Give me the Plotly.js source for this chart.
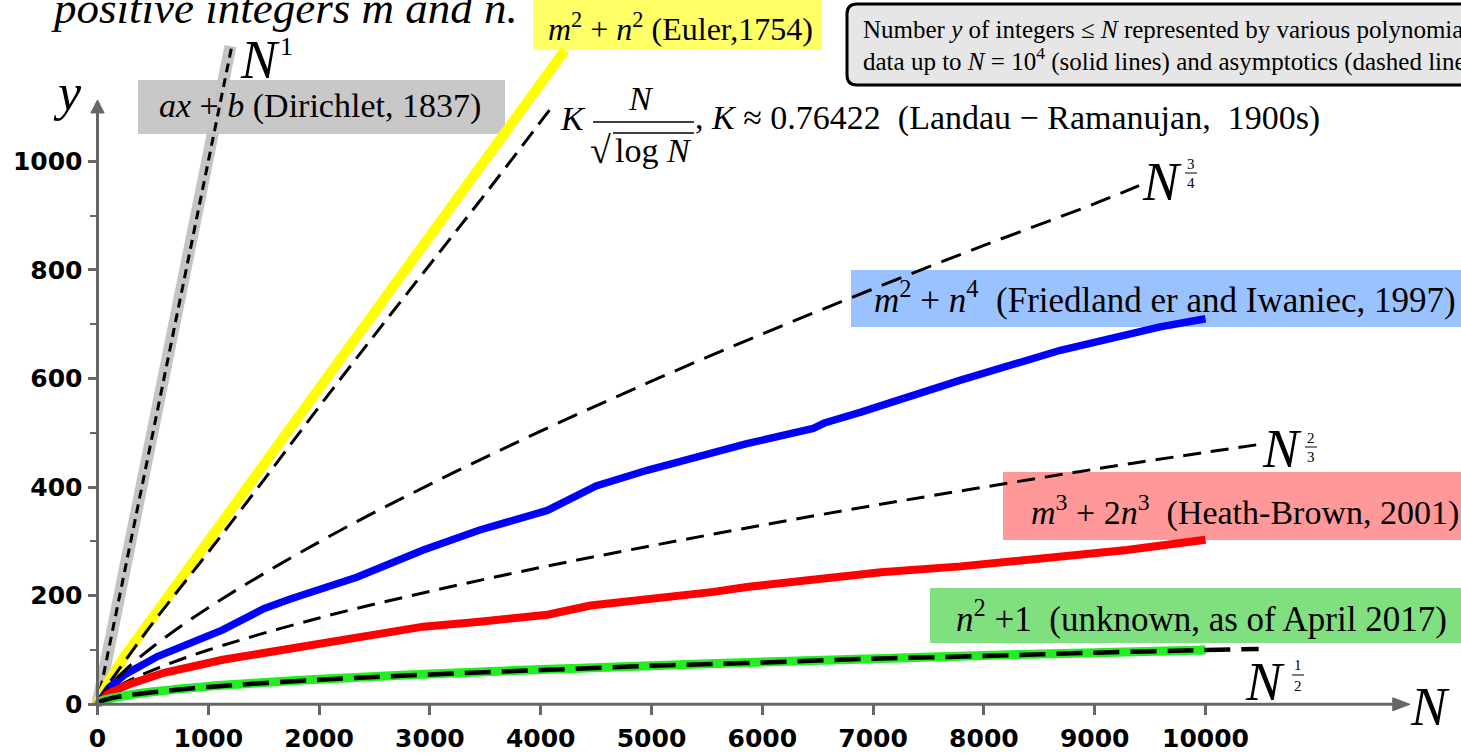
<!DOCTYPE html>
<html><head><meta charset="utf-8">
<script src="https://cdn.plot.ly/plotly-3.0.1.min.js"></script>
<style>html,body{margin:0;padding:0;background:#fff;overflow:hidden}#chart{width:1461px;height:755px}</style>
</head><body><div id="chart"></div>
<script>
// ---------- data ----------
const xTicks = [0,1000,2000,3000,4000,5000,6000,7000,8000,9000,10000];
const xTickText = ['0','1000','2000','3000','4000','5000','6000','7000','8000','9000','10000'];
const yTicks = [0,200,400,600,800,1000];
const yTickText = ['0','200','400','600','800','1000'];
const yMinorTicks = [100,300,500,700,900];

// ax+b (Dirichlet, 1837)
const xLinear = [0, 1200];
const yLinear = [0, 1212];
// N^1 asymptotic
const xN1 = [0, 1214];
const yN1 = [0, 1214];
// m^2+n^2 (Euler, 1754)
const xEuler = [0, 100, 250, 500, 1000, 1500, 2000, 2500, 3000, 3500, 4000, 4219];
const yEuler = [0, 42, 90, 160, 302, 440, 580, 722, 865, 1005, 1145, 1205];
// Landau-Ramanujan asymptotic
const xLandau = [0, 10, 50, 100, 200, 500, 1000, 1500, 2000, 2500, 3000, 3500, 4100];
const yLandau = [0, 5, 19, 37, 66, 150, 280, 413, 548, 680, 810, 940, 1100];
// N^(3/4)
const xN34 = [0, 25, 100, 250, 500, 1000, 2000, 3000, 4000, 5000, 6000, 7000, 8000, 9000, 9400];
const yN34 = [0, 11, 32, 63, 106, 178, 299, 405, 503, 595, 682, 765, 845, 922, 955];
// m^2+n^4 (Friedlander & Iwaniec, 1997)
const xFI = [0, 100, 250, 540, 1130, 1500, 1740, 2340, 2940, 3450, 4060, 4500, 4960, 5860, 6460, 6560, 6890, 7790, 8690, 9590, 10000];
const yFI = [0, 30, 55, 88, 137, 176, 194, 234, 284, 321, 357, 402, 431, 480, 508, 518, 538, 597, 652, 695, 710];
// N^(2/3)
const xN23 = [0, 25, 100, 250, 500, 1000, 2000, 3000, 4000, 5000, 6000, 7000, 8000, 9000, 10000, 10500];
const yN23 = [0, 9, 22, 40, 63, 100, 159, 208, 252, 292, 330, 366, 400, 433, 464, 479];
// m^3+2n^3 (Heath-Brown, 2001)
const xHB = [0, 100, 300, 600, 1130, 2040, 2640, 2940, 3450, 4060, 4450, 4960, 5560, 5860, 6460, 7070, 7790, 8690, 9290, 10000];
const yHB = [0, 20, 38, 58, 82, 113, 131, 143, 152, 165, 182, 192, 207, 216, 229, 243, 254, 271, 284, 303];
// n^2+1
const xSq1 = [0, 25, 100, 250, 500, 1000, 2000, 3000, 4000, 5000, 6000, 7000, 8000, 9000, 10000];
const ySq1 = [0, 5, 10, 16, 23, 33, 46, 56, 64, 71, 78, 84, 90, 95, 100];
// N^(1/2)
const xN12 = [0, 25, 100, 250, 500, 1000, 2000, 3000, 4000, 5000, 6000, 7000, 8000, 9000, 10000, 10480];
const yN12 = [0, 5, 10, 16, 22, 32, 45, 55, 63, 71, 77, 84, 89, 95, 100, 102];

// ---------- page geometry ----------
const W = 1461, H = 755;
const X0PX = 97.5, Y0PX = 704.3, SX = 0.1108, SY = 0.543;
const xRange = [-X0PX / SX, (W - X0PX) / SX];
const yRange = [-(H - Y0PX) / SY, Y0PX / SY];
const PX = p => p / W;
const PY = p => 1 - p / H;
const AX = '#666666';
const SERIF = 'Liberation Serif';

function line(x, y, color, width, dash, shape) {
  return {type: 'scatter', mode: 'lines', x: x, y: y, hoverinfo: 'skip',
    line: {color: color, width: width, dash: dash || 'solid', shape: shape || 'linear'}};
}
const traces = [
  line(xLinear, yLinear, '#c4c4c4', 12),
  line(xN1, yN1, '#000', 3, '9px,6px'),
  line(xEuler, yEuler, '#ffff00', 10),
  line(xLandau, yLandau, '#000', 3, '18px,9px', 'spline'),
  line(xFI, yFI, '#0000ff', 7.5),
  line(xN34, yN34, '#000', 3, '21px,11px', 'spline'),
  line(xN23, yN23, '#000', 3, '18px,10px', 'spline'),
  line(xHB, yHB, '#ff0000', 8),
  line(xSq1, ySq1, '#22ee22', 9, 'solid', 'spline'),
  line(xN12, yN12, '#000', 4.5, '26px,11px', 'spline')
];

function txt(text, left, cy, size, extra) {
  return Object.assign({xref: 'paper', yref: 'paper', x: PX(left), y: PY(cy),
    xanchor: 'left', yanchor: 'middle', showarrow: false, text: text, borderpad: 0,
    font: {family: SERIF, size: size, color: '#000'}}, extra || {});
}
function ctr(text, cx, cy, size) {
  return txt(text, cx, cy, size, {xanchor: 'center'});
}
function box(l, t, r, b, color) {
  return {type: 'rect', xref: 'paper', yref: 'paper', x0: PX(l), x1: PX(r), y0: PY(b), y1: PY(t),
    fillcolor: color, line: {width: 0}, layer: 'below'};
}
function seg(x0, y0, x1, y1, w) {
  return {type: 'line', xref: 'paper', yref: 'paper', x0: PX(x0), x1: PX(x1), y0: PY(y0), y1: PY(y1),
    line: {color: '#000', width: w || 1.3}};
}
function roundBox(l, t, r, b, rad) {
  const p = (x, y) => PX(x) + ',' + PY(y);
  return {type: 'path', xref: 'paper', yref: 'paper', layer: 'below',
    path: 'M' + p(l + rad, t) + ' L' + p(r, t) + ' L' + p(r, b) + ' L' + p(l + rad, b) +
      ' Q' + p(l, b) + ' ' + p(l, b - rad) + ' L' + p(l, t + rad) + ' Q' + p(l, t) + ' ' + p(l + rad, t) + ' Z',
    fillcolor: '#e6e6e6', line: {color: '#000', width: 3}};
}

const yTop = 1113, yBase = 1089, xTip = 11845, xBase = 11690;
const shapes = [
  box(138, 80, 505, 134, '#c8c8c8'),
  box(533, -5, 822, 50, '#ffff66'),
  box(851, 270, 1470, 327, '#99c2ff'),
  box(1003, 472, 1470, 540, '#ff9999'),
  box(930, 588, 1470, 643, '#80e080'),
  roundBox(847, 4, 1475, 85, 10),
  // axes with arrow heads
  {type: 'line', xref: 'x', yref: 'y', x0: 0, x1: 0, y0: 0, y1: yBase + 5, line: {color: AX, width: 3}},
  {type: 'line', xref: 'x', yref: 'y', x0: 0, x1: xBase + 20, y0: 0, y1: 0, line: {color: AX, width: 3}},
  {type: 'path', xref: 'x', yref: 'y', path: 'M0,' + yTop + ' L-60,' + yBase + ' L60,' + yBase + ' Z',
    fillcolor: AX, line: {color: AX, width: 1}},
  {type: 'path', xref: 'x', yref: 'y', path: 'M' + xTip + ',0 L' + xBase + ',12 L' + xBase + ',-12 Z',
    fillcolor: AX, line: {color: AX, width: 1}},
  // Landau fraction bar and radical overline
  seg(593, 122, 694, 122, 1.4),
  seg(613, 133, 694, 133, 1.4),
  // small fraction bars in exponents
  seg(1185, 173, 1197, 173, 1),
  seg(1305, 447, 1317, 447, 1),
  seg(1292, 675, 1304, 675, 1)
];

const NB = '\u00a0';
const annotations = [
  txt('<i>positive integers m and n.</i>', 50, 8, 45),
  txt('<i>N</i>', 239, 60, 54),
  ctr('1', 286, 46, 26),
  txt('<i>ax</i> + <i>b</i> (Dirichlet, 1837)', 158, 106, 34),
  txt('<i>m</i><sup>2</sup> + <i>n</i><sup>2</sup> (Euler,1754)', 547, 27, 32),
  txt('Number <i>y</i> of integers ≤ <i>N</i> represented by various polynomials:', 862, 30, 25),
  txt('data up to <i>N</i> = 10<sup>4</sup> (solid lines) and asymptotics (dashed lines)', 862, 60, 25),
  txt('<i>K</i>', 559, 118, 34),
  ctr('<i>N</i>', 641, 99, 34),
  txt('√', 589, 150, 38),
  txt('log' + NB + '<i>N</i>', 614, 151, 34),
  txt(',' + NB + '<i>K</i>' + NB + '≈' + NB + '0.76422' + NB + NB + '(Landau' + NB + '−' + NB + 'Ramanujan,' + NB + NB + '1900s)', 694, 118, 34),
  txt('<i>N</i>', 1141, 182, 54),
  ctr('3', 1191, 164, 15), ctr('4', 1191, 183, 15),
  txt('<i>m</i><sup>2</sup> + <i>n</i><sup>4</sup>' + NB + NB + '(Friedland er and Iwaniec, 1997)', 873, 298, 35),
  txt('<i>N</i>', 1261, 449, 54),
  ctr('2', 1311, 438, 15), ctr('3', 1311, 457, 15),
  txt('<i>m</i><sup>3</sup> + 2<i>n</i><sup>3</sup>' + NB + NB + '(Heath-Brown, 2001)', 1030, 511, 34),
  txt('<i>n</i><sup>2</sup> +1' + NB + NB + '(unknown, as of April 2017)', 955, 616, 35),
  txt('<i>N</i>', 1244, 682, 54),
  ctr('1', 1298, 665, 15), ctr('2', 1298, 686, 15),
  txt('<i>N</i>', 1409, 707, 54),
  txt('<i>y</i>', 52, 92, 52)
];

const tickFont = {family: 'DejaVu Sans', size: 25, color: '#000', weight: 'bold'};
const layout = {
  width: W, height: H, margin: {l: 0, r: 0, t: 0, b: 0},
  paper_bgcolor: '#fff', plot_bgcolor: 'rgba(0,0,0,0)', showlegend: false,
  xaxis: {range: xRange, anchor: 'free', position: 1 - Y0PX / H, showgrid: false, zeroline: false,
    showline: false, tickmode: 'array', tickvals: xTicks, ticktext: xTickText, ticks: 'outside',
    ticklen: 10, tickwidth: 3, tickcolor: AX, tickfont: tickFont, ticklabelstandoff: 2, fixedrange: true},
  yaxis: {range: yRange, anchor: 'free', position: X0PX / W, showgrid: false, zeroline: false,
    showline: false, tickmode: 'array', tickvals: yTicks, ticktext: yTickText, ticks: 'outside',
    ticklen: 10, tickwidth: 3, tickcolor: AX, tickfont: tickFont, fixedrange: true,
    minor: {tickmode: 'array', tickvals: yMinorTicks, ticks: 'outside', ticklen: 8, tickwidth: 2, tickcolor: AX}},
  shapes: shapes, annotations: annotations
};
Plotly.newPlot('chart', traces, layout, {staticPlot: true, displayModeBar: false});
</script></body></html>
